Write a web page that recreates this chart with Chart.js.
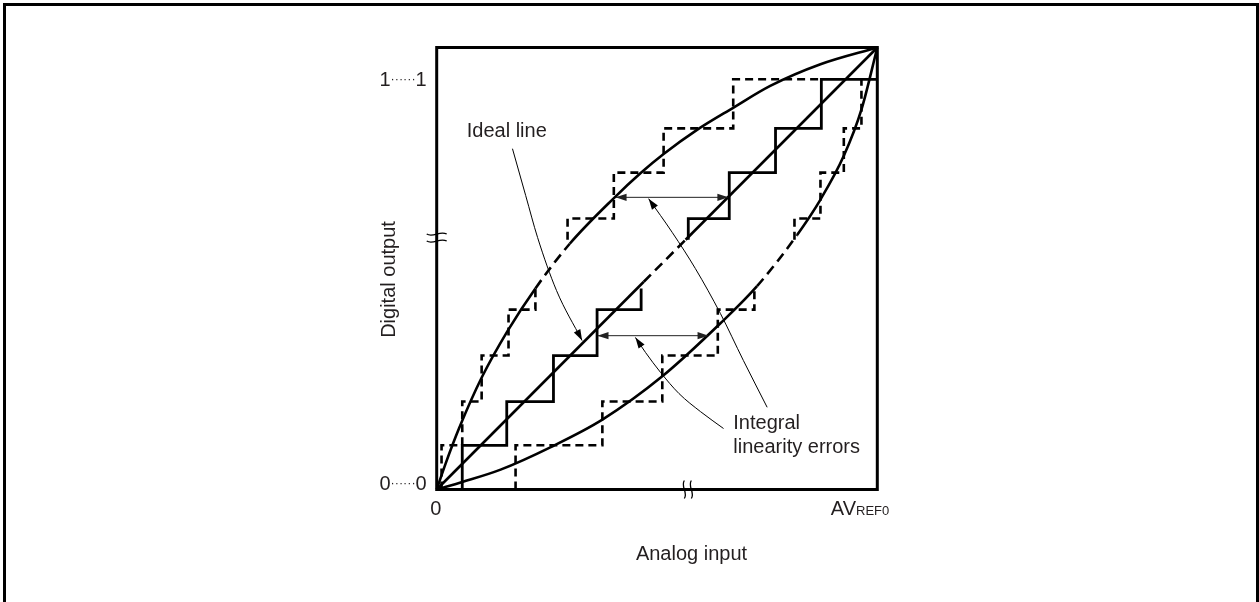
<!DOCTYPE html>
<html><head><meta charset="utf-8">
<script src="https://cdn.jsdelivr.net/npm/chart.js@4/dist/chart.umd.min.js"></script>
<style>html,body{margin:0;padding:0;background:#fff}canvas{display:block}</style>
</head><body>
<canvas id="c" width="1259" height="602"></canvas>
<script>
// ---------- data (analog input 0..100 % of AVREF0, digital output 0..100 % of full code) ----------
const codeLevels  = [0, 10, 19.9, 30.3, 40.7, 51.1, 61.3, 71.7, 81.7, 92.8];   // output level of each code
const idealSteps  = [5.8, 15.9, 26.5, 36.4, 46.4, 57.1, 66.4, 76.9, 87.3];     // input where code k begins (ideal)
const upperSteps  = [1.1, 5.8, 10.2, 16.3, 22.4, 29.7, 40.2, 51.5, 67.3];      // upper (bowed up) converter
const lowerSteps  = [17.9, 37.6, 51.2, 63.8, 72.1, 81.2, 87.1, 92.4, 96.4];    // lower (bowed down) converter
const stairEnds   = [100, 87.3, 96.4];                                         // ideal, upper, lower
const omittedBand = [45.5, 56.5];                                              // codes left out of the drawing

const upperCurveX = [0, 2, 5.1, 10.3, 16.1, 22.4, 30.2, 40.4, 46.3, 51.5, 59, 67.2, 75.7, 87.1, 100];
const upperCurveY = [0, 5.8, 13.9, 25.5, 35.9, 45.5, 55.6, 66.1, 71.6, 75.9, 81.3, 86.3, 91.3, 96.2, 100];
const lowerCurveX = [0, 5.8, 14.5, 25.9, 37.6, 51.2, 64.4, 72.7, 81.8, 87.1, 92.4, 96.5, 100];
const lowerCurveY = [0, 1.7, 4.5, 9.6, 15.8, 25.6, 37.6, 46.0, 57.6, 65.6, 75.5, 86.3, 100];
const idealLineX  = [0, 47, 56.5, 100];
const idealLineY  = [0, 47, 56.5, 100];

const idealLeaderX = [17.2, 20.2, 22.9, 27.2, 33.0];
const idealLeaderY = [77.1, 66.5, 57.0, 45.0, 33.7];
const errLeaderAX  = [48.1, 53.5, 58.7, 64.4, 69.6, 75.0];
const errLeaderAY  = [65.8, 58.1, 50.0, 39.8, 29.2, 18.6];
const errLeaderBX  = [45.1, 47.4, 50.8, 55.0, 59.9, 65.1];
const errLeaderBY  = [34.4, 31.0, 26.5, 21.7, 17.6, 13.8];

const errArrowY    = [66.1, 34.8];
const errArrowFrom = [40.6, 36.5];
const errArrowTo   = [66.2, 61.7];
const axisBreak    = 57;

const yTickLabels = ['0', '1'];

// ---------- helpers ----------
const pts = (xs, ys) => xs.map((x, i) => ({x, y: ys[i]}));
function stairs(steps, end, startX) {
  const out = [{x: startX, y: codeLevels[0]}];
  for (let k = 1; k < codeLevels.length; k++) {
    const e = steps[k - 1], lo = codeLevels[k - 1], hi = codeLevels[k];
    if (hi <= omittedBand[0] || lo >= omittedBand[1]) out.push({x: e, y: hi});
    else if (lo < omittedBand[0]) { out.push({x: e, y: omittedBand[0]}); out.push({x: e, y: null}); }
    else if (hi > omittedBand[1]) { out.push({x: e, y: omittedBand[1]}); out.push({x: e, y: hi}); }
  }
  out.push({x: end, y: codeLevels[codeLevels.length - 1]});
  return out;
}
const inBand = ctx => {
  const m = (ctx.p0.parsed.y + ctx.p1.parsed.y) / 2;
  return m > omittedBand[0] && m < omittedBand[1];
};
const curveSeg = {borderDash: ctx => inBand(ctx) ? [10, 6] : undefined};

const base = {showLine: true, pointRadius: 0, clip: false, borderColor: '#000', fill: false};
const datasets = [
  {...base, data: pts(upperCurveX, upperCurveY), borderWidth: 2.6, cubicInterpolationMode: 'monotone', segment: curveSeg},
  {...base, data: pts(lowerCurveX, lowerCurveY), borderWidth: 2.6, cubicInterpolationMode: 'monotone', segment: curveSeg},
  {...base, data: pts(idealLineX, idealLineY), borderWidth: 2.6, segment: curveSeg},
  {...base, data: stairs(idealSteps, stairEnds[0], 0), borderWidth: 2.8, stepped: 'before'},
  {...base, data: stairs(upperSteps, stairEnds[1], upperSteps[0]), borderWidth: 2.6, stepped: 'before', borderDash: [8, 5]},
  {...base, data: stairs(lowerSteps, stairEnds[2], lowerSteps[0]), borderWidth: 2.6, stepped: 'before', borderDash: [8, 5]},
  {...base, data: pts(idealLeaderX, idealLeaderY), borderWidth: 1, cubicInterpolationMode: 'monotone', arrowEnd: true},
  {...base, data: pts(errLeaderAX, errLeaderAY), borderWidth: 1, cubicInterpolationMode: 'monotone', arrowStart: true},
  {...base, data: pts(errLeaderBX, errLeaderBY), borderWidth: 1, cubicInterpolationMode: 'monotone', arrowStart: true},
];
errArrowY.forEach((yv, i) => datasets.push({...base, data: [{x: errArrowFrom[i], y: yv}, {x: errArrowTo[i], y: yv}],
  borderWidth: 1, borderColor: '#222', arrowStart: true, arrowEnd: true}));

// ---------- decorations (frame, arrowheads, text) ----------
const FONT = '"Liberation Sans", Arial, Helvetica, sans-serif';
const INK = '#231f20';
function arrowHead(ctx, tip, from) {
  const a = Math.atan2(tip.y - from.y, tip.x - from.x), L = 11, W = 3.6;
  ctx.beginPath();
  ctx.moveTo(tip.x, tip.y);
  ctx.lineTo(tip.x - L * Math.cos(a) + W * Math.sin(a), tip.y - L * Math.sin(a) - W * Math.cos(a));
  ctx.lineTo(tip.x - L * Math.cos(a) - W * Math.sin(a), tip.y - L * Math.sin(a) + W * Math.cos(a));
  ctx.closePath(); ctx.fill();
}
function tilde(ctx, x0, y0, x1, y1, amp) {
  const dx = x1 - x0, dy = y1 - y0, len = Math.hypot(dx, dy), nx = -dy / len * amp, ny = dx / len * amp;
  ctx.beginPath();
  ctx.moveTo(x0, y0);
  ctx.bezierCurveTo(x0 + dx / 3 + nx, y0 + dy / 3 + ny, x0 + 2 * dx / 3 - nx, y0 + 2 * dy / 3 - ny, x1, y1);
  ctx.stroke();
}
function dottedLabel(ctx, d, rightX, baseY) {
  ctx.textAlign = 'left'; ctx.textBaseline = 'alphabetic';
  ctx.font = '20px ' + FONT; const wd = ctx.measureText(d).width;
  ctx.font = '12.5px ' + FONT; const dots = '······'; const wdots = ctx.measureText(dots).width;
  let x = rightX - (2 * wd + wdots);
  ctx.font = '20px ' + FONT; ctx.fillText(d, x, baseY); x += wd;
  ctx.font = '12.5px ' + FONT; ctx.fillText(dots, x, baseY - 3); x += wdots;
  ctx.font = '20px ' + FONT; ctx.fillText(d, x, baseY);
}
const decor = {
  id: 'decor',
  afterDatasetsDraw(chart) {
    const {ctx, chartArea: a, scales: {x, y}} = chart;
    ctx.save();
    ctx.fillStyle = '#000'; ctx.strokeStyle = '#000';
    chart.data.datasets.forEach((ds, i) => {
      const p = chart.getDatasetMeta(i).data;
      ctx.fillStyle = ds.borderColor;
      if (ds.arrowStart) arrowHead(ctx, p[0], p[1]);
      if (ds.arrowEnd) arrowHead(ctx, p[p.length - 1], p[p.length - 2]);
    });
    // plot frame
    ctx.lineWidth = 3; ctx.strokeStyle = '#000';
    ctx.strokeRect(a.left, a.top, a.right - a.left, a.bottom - a.top);
    // outer frame
    ctx.beginPath(); ctx.moveTo(4.5, 602); ctx.lineTo(4.5, 4.5); ctx.lineTo(1257.5, 4.5); ctx.lineTo(1257.5, 602); ctx.stroke();
    // axis break marks
    ctx.lineWidth = 1.3;
    const yb = y.getPixelForValue(axisBreak), xb = x.getPixelForValue(axisBreak);
    [-3.5, 3.5].forEach(o => {
      tilde(ctx, a.left - 10, yb + o, a.left + 10, yb + o, 4);
      tilde(ctx, xb + o, a.bottom - 9, xb + o, a.bottom + 9, 4);
    });
    // texts
    ctx.fillStyle = INK;
    dottedLabel(ctx, yTickLabels[1], a.left - 10, y.getPixelForValue(codeLevels[9]) + 7);
    dottedLabel(ctx, yTickLabels[0], a.left - 10, a.bottom + 0.5);
    ctx.font = '20px ' + FONT; ctx.textBaseline = 'alphabetic';
    ctx.textAlign = 'center'; ctx.fillText('0', a.left - 1, a.bottom + 25.5);
    ctx.textAlign = 'left';
    const avX = a.right - 46.5;
    ctx.fillText('AV', avX, a.bottom + 25.5);
    const wAV = ctx.measureText('AV').width;
    ctx.font = '13px ' + FONT; ctx.fillText('REF0', avX + wAV, a.bottom + 25.5);
    ctx.font = '20px ' + FONT;
    ctx.fillText('Ideal line', 466.7, 136.7);
    ctx.fillText('Integral', 733.3, 429);
    ctx.fillText('linearity errors', 733.3, 453.3);
    ctx.textAlign = 'center';
    ctx.fillText('Analog input', 691.5, 559.5);
    ctx.translate(394.5, 279.5);
    ctx.rotate(-Math.PI / 2);
    ctx.fillText('Digital output', 0, 0);
    ctx.restore();
  }
};

new Chart(document.getElementById('c'), {
  type: 'scatter',
  data: {datasets},
  options: {
    responsive: false, animation: false, devicePixelRatio: 1,
    layout: {padding: {left: 436.7, top: 47.5, right: 1259 - 877.3, bottom: 602 - 489.5}},
    scales: {
      x: {type: 'linear', min: 0, max: 100, display: false},
      y: {type: 'linear', min: 0, max: 100, display: false}
    },
    plugins: {legend: {display: false}, tooltip: {enabled: false}},
    elements: {point: {radius: 0, hoverRadius: 0}}
  },
  plugins: [decor]
});
</script>
</body></html>
